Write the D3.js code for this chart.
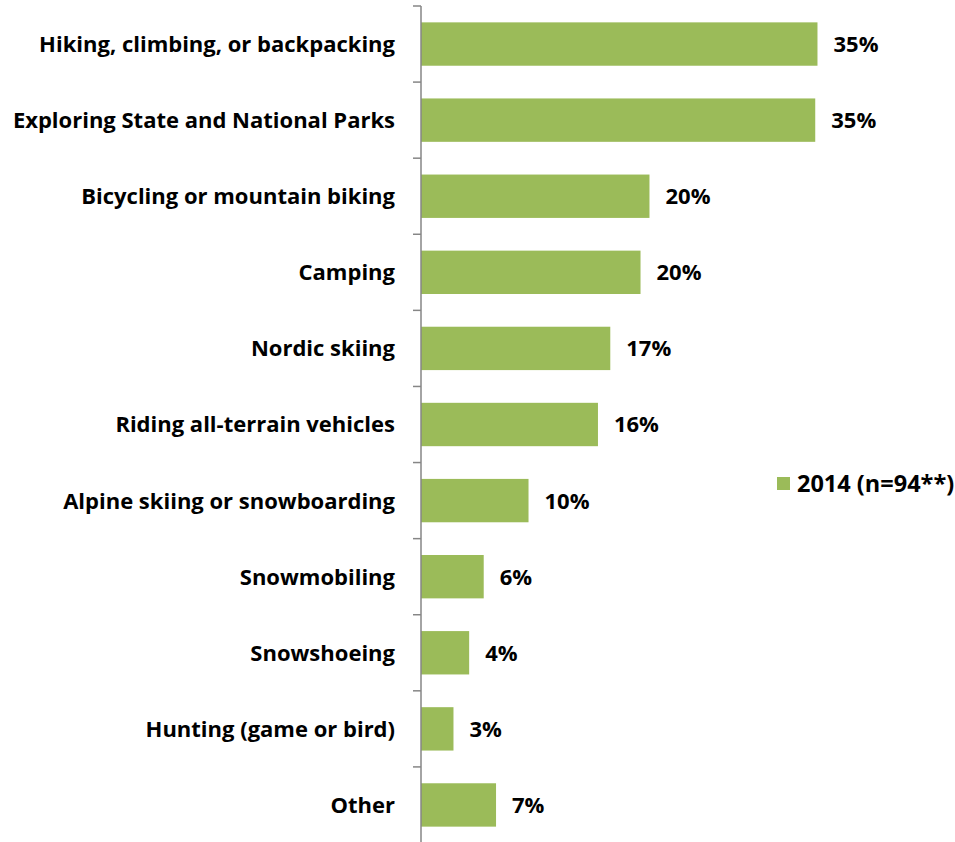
<!DOCTYPE html>
<html>
<head>
<meta charset="utf-8">
<script src="https://cdn.jsdelivr.net/npm/d3@7"></script>
<style>
  html, body { margin: 0; padding: 0; background: #ffffff; }
  svg { display: block; }
  text { font-family: "Open Sans", Lato, sans-serif; font-weight: bold; fill: #000; }
</style>
</head>
<body>
<svg id="chart" width="955" height="842"></svg>
<script>
// Outdoor activities, share of respondents (percent)
const categories = [
  "Hiking, climbing, or backpacking",
  "Exploring State and National Parks",
  "Bicycling or mountain biking",
  "Camping",
  "Nordic skiing",
  "Riding all-terrain vehicles",
  "Alpine skiing or snowboarding",
  "Snowmobiling",
  "Snowshoeing",
  "Hunting (game or bird)",
  "Other"
];
const values2014 = [35.4, 35.2, 20.4, 19.6, 16.9, 15.8, 9.6, 5.6, 4.3, 2.9, 6.7];
const seriesName = "2014 (n=94**)";

const svg = d3.select("#chart");
const barColor = "#9BBB59";
const axisColor = "#868686";
const fontSize = 22;

const x0 = 421;
const x = d3.scaleLinear().domain([0, 40]).range([x0, x0 + 448]);
const y = d3.scaleBand()
  .domain(categories)
  .range([6, 843])
  .paddingInner(0.43)
  .paddingOuter(0.215);

const fmt = v => d3.format(".0f")(v) + "%";

// bars
svg.append("g").selectAll("rect")
  .data(categories)
  .join("rect")
  .attr("x", x(0))
  .attr("y", d => y(d))
  .attr("width", (d, i) => x(values2014[i]) - x(0))
  .attr("height", y.bandwidth())
  .attr("fill", barColor);

// value labels
svg.append("g").selectAll("text")
  .data(categories)
  .join("text")
  .attr("x", (d, i) => x(values2014[i]) + 16)
  .attr("y", d => y(d) + y.bandwidth() / 2)
  .attr("dy", "0.36em")
  .attr("font-size", fontSize)
  .text((d, i) => fmt(values2014[i]));

// category axis with boundary ticks
const step = y.step();
const start = y.range()[0];
const axis = svg.append("g");
axis.append("line")
  .attr("x1", x0).attr("x2", x0)
  .attr("y1", start).attr("y2", start + step * categories.length)
  .attr("stroke", axisColor).attr("stroke-width", 1.5);
axis.selectAll("line.tick")
  .data(d3.range(categories.length + 1))
  .join("line")
  .attr("class", "tick")
  .attr("x1", x0 - 8).attr("x2", x0)
  .attr("y1", i => start + i * step).attr("y2", i => start + i * step)
  .attr("stroke", axisColor).attr("stroke-width", 1.5);

// category labels
svg.append("g").selectAll("text")
  .data(categories)
  .join("text")
  .attr("x", 395)
  .attr("y", d => y(d) + y.bandwidth() / 2)
  .attr("dy", "0.36em")
  .attr("text-anchor", "end")
  .attr("font-size", fontSize)
  .text(d => d);

// legend
const legend = svg.append("g").attr("transform", "translate(777,477)");
legend.append("rect").attr("width", 13).attr("height", 13).attr("fill", barColor);
legend.append("text")
  .attr("x", 20).attr("y", 6.5).attr("dy", "0.36em")
  .attr("font-size", 23.5)
  .text(seriesName);
</script>
</body>
</html>
